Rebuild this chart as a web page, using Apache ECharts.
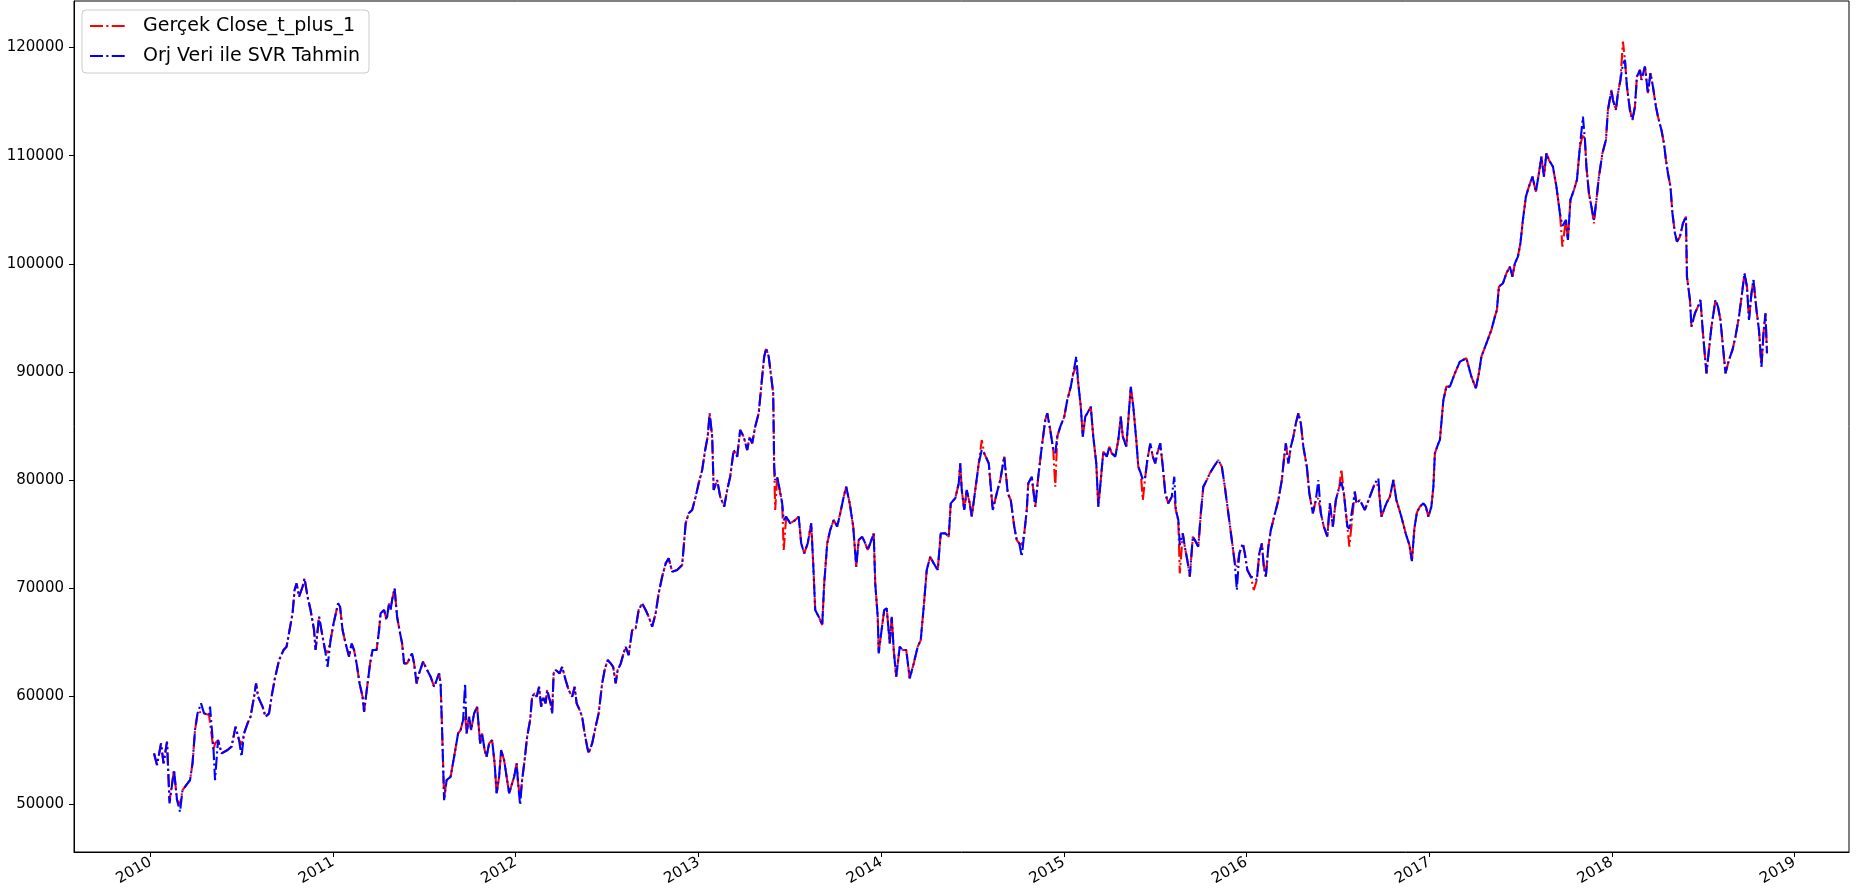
<!DOCTYPE html>
<html>
<head>
<meta charset="utf-8">
<script src="https://cdn.jsdelivr.net/npm/echarts@6/dist/echarts.min.js"></script>
<style>
html,body{margin:0;padding:0;background:#fff;}
#chart{width:1863px;height:896px;}
</style>
</head>
<body>
<div id="chart"></div>
<script>
const seriesNames = ['Gerçek Close_t_plus_1', 'Orj Veri ile SVR Tahmin'];
const yTickValues = [50000, 60000, 70000, 80000, 90000, 100000, 110000, 120000];
const xTickYears = ['2010', '2011', '2012', '2013', '2014', '2015', '2016', '2017', '2018', '2019'];

const dates = [
'2010-01-08','2010-01-14','2010-01-22','2010-01-27','2010-02-03','2010-02-08','2010-02-17','2010-02-23','2010-03-01','2010-03-06','2010-03-16','2010-03-21','2010-03-26','2010-03-31','2010-04-05','2010-04-12','2010-04-18','2010-04-28','2010-04-30','2010-05-07','2010-05-10','2010-05-16','2010-05-23','2010-06-04','2010-06-12','2010-06-20','2010-06-27','2010-07-02','2010-07-07','2010-07-14','2010-07-20','2010-07-27','2010-07-31','2010-08-04','2010-08-13','2010-08-19','2010-08-26','2010-08-31','2010-09-06','2010-09-15','2010-09-24','2010-09-30','2010-10-06','2010-10-12','2010-10-16','2010-10-20','2010-10-25','2010-11-01','2010-11-05','2010-11-11','2010-11-17','2010-11-24','2010-11-27','2010-12-04','2010-12-11','2010-12-16','2010-12-21','2010-12-27',
'2011-01-02','2011-01-11','2011-01-15','2011-01-20','2011-01-26','2011-02-02','2011-02-07','2011-02-12','2011-02-17','2011-02-23','2011-03-01','2011-03-04','2011-03-11','2011-03-16','2011-03-21','2011-03-29','2011-04-03','2011-04-06','2011-04-13','2011-04-18','2011-04-23','2011-04-26','2011-04-29','2011-05-04','2011-05-09','2011-05-15','2011-05-19','2011-05-23','2011-05-29','2011-06-08','2011-06-12','2011-06-17','2011-06-22','2011-06-30','2011-07-08','2011-07-15','2011-07-22','2011-07-27','2011-08-01','2011-08-04','2011-08-07','2011-08-11','2011-08-16','2011-08-24','2011-08-31','2011-09-08','2011-09-13','2011-09-18','2011-09-22','2011-09-25','2011-09-30','2011-10-04','2011-10-10','2011-10-16','2011-10-22','2011-10-26','2011-10-31','2011-11-04','2011-11-09','2011-11-15','2011-11-20','2011-11-24','2011-11-29','2011-12-03','2011-12-09','2011-12-14','2011-12-19','2011-12-23','2011-12-29',
'2012-01-03','2012-01-06','2012-01-10','2012-01-14','2012-01-19','2012-01-24','2012-01-30','2012-02-03','2012-02-08','2012-02-12','2012-02-17','2012-02-21','2012-02-25','2012-03-01','2012-03-04','2012-03-11','2012-03-14','2012-03-17','2012-03-21','2012-03-29','2012-04-03','2012-04-10','2012-04-16','2012-04-23','2012-04-28','2012-05-02','2012-05-08','2012-05-13','2012-05-18','2012-05-23','2012-05-26','2012-06-02','2012-06-09','2012-06-15','2012-06-22','2012-06-27','2012-07-03','2012-07-09','2012-07-14','2012-07-19','2012-07-23','2012-07-29','2012-08-04','2012-08-08','2012-08-14','2012-08-21','2012-08-28','2012-09-03','2012-09-10','2012-09-17','2012-09-23','2012-09-30','2012-10-07','2012-10-13','2012-10-20','2012-10-27','2012-11-02','2012-11-09','2012-11-19','2012-11-29','2012-12-06','2012-12-12','2012-12-19','2012-12-26',
'2013-01-01','2013-01-08','2013-01-14','2013-01-19','2013-01-23','2013-01-28','2013-01-31','2013-02-07','2013-02-13','2013-02-21','2013-02-27','2013-03-05','2013-03-12','2013-03-19','2013-03-25','2013-04-01','2013-04-08','2013-04-13','2013-04-18','2013-04-24','2013-05-01','2013-05-08','2013-05-12','2013-05-16','2013-05-21','2013-05-26','2013-05-30','2013-06-01','2013-06-03','2013-06-07','2013-06-12','2013-06-17','2013-06-20','2013-06-25','2013-07-03','2013-07-13','2013-07-20','2013-07-25','2013-07-31','2013-08-07','2013-08-14','2013-08-18','2013-08-22','2013-08-29','2013-09-05','2013-09-09','2013-09-15','2013-09-21','2013-09-28','2013-10-05','2013-10-11','2013-10-18','2013-10-23','2013-10-30','2013-11-06','2013-11-12','2013-11-17','2013-11-24','2013-11-30','2013-12-05','2013-12-10','2013-12-17','2013-12-20','2013-12-25','2013-12-27','2013-12-31',
'2014-01-07','2014-01-12','2014-01-18','2014-01-22','2014-01-26','2014-01-31','2014-02-07','2014-02-13','2014-02-20','2014-02-27','2014-03-07','2014-03-15','2014-03-21','2014-03-27','2014-04-02','2014-04-09','2014-04-16','2014-04-24','2014-04-30','2014-05-09','2014-05-16','2014-05-20','2014-05-29','2014-06-05','2014-06-08','2014-06-11','2014-06-16','2014-06-21','2014-06-27','2014-07-01','2014-07-08','2014-07-15','2014-07-21','2014-07-26','2014-08-04','2014-08-12','2014-08-20','2014-08-27','2014-09-04','2014-09-11','2014-09-17','2014-09-24','2014-09-29','2014-10-04','2014-10-09','2014-10-14','2014-10-19','2014-10-22','2014-10-29','2014-11-05','2014-11-11','2014-11-18','2014-11-25','2014-11-29','2014-12-05','2014-12-11','2014-12-15','2014-12-19','2014-12-25',
'2015-01-02','2015-01-08','2015-01-15','2015-01-20','2015-01-26','2015-01-30','2015-02-04','2015-02-08','2015-02-13','2015-02-17','2015-02-24','2015-03-01','2015-03-07','2015-03-11','2015-03-16','2015-03-21','2015-03-28','2015-04-02','2015-04-07','2015-04-14','2015-04-20','2015-04-25','2015-04-29','2015-05-06','2015-05-10','2015-05-15','2015-05-20','2015-05-26','2015-05-30','2015-06-04','2015-06-08','2015-06-13','2015-06-17','2015-06-23','2015-06-28','2015-07-03','2015-07-07','2015-07-13','2015-07-18','2015-07-23','2015-07-29','2015-08-05','2015-08-10','2015-08-13','2015-08-18','2015-08-21','2015-08-27','2015-08-31','2015-09-05','2015-09-10','2015-09-16','2015-09-20','2015-09-27','2015-10-02','2015-10-07','2015-10-14','2015-10-20','2015-10-28','2015-11-06','2015-11-13','2015-11-19','2015-11-26','2015-12-03','2015-12-09','2015-12-13','2015-12-18','2015-12-25','2015-12-29',
'2016-01-03','2016-01-10','2016-01-16','2016-01-22','2016-01-27','2016-02-01','2016-02-05','2016-02-09','2016-02-14','2016-02-19','2016-02-24','2016-02-29','2016-03-05','2016-03-12','2016-03-16','2016-03-20','2016-03-25','2016-03-30','2016-04-04','2016-04-09','2016-04-14','2016-04-19','2016-04-24','2016-05-01','2016-05-06','2016-05-13','2016-05-19','2016-05-24','2016-05-29','2016-06-04','2016-06-11','2016-06-16','2016-06-22','2016-06-28','2016-07-05','2016-07-09','2016-07-14','2016-07-21','2016-07-25','2016-08-05','2016-08-08','2016-08-15','2016-08-25','2016-09-04','2016-09-14','2016-09-21','2016-09-24','2016-09-27','2016-10-07','2016-10-14','2016-10-21','2016-10-27','2016-11-06','2016-11-15','2016-11-22','2016-11-27','2016-12-02','2016-12-07','2016-12-13','2016-12-20','2016-12-25','2016-12-30',
'2017-01-05','2017-01-09','2017-01-12','2017-01-19','2017-01-22','2017-01-29','2017-02-04','2017-02-11','2017-02-21','2017-03-03','2017-03-16','2017-03-26','2017-04-04','2017-04-10','2017-04-15','2017-04-25','2017-05-05','2017-05-12','2017-05-16','2017-05-20','2017-05-28','2017-06-04','2017-06-11','2017-06-16','2017-06-21','2017-06-27','2017-07-02','2017-07-07','2017-07-13','2017-07-19','2017-07-26','2017-08-02','2017-08-08','2017-08-13','2017-08-18','2017-08-23','2017-08-28','2017-09-05','2017-09-12','2017-09-19','2017-09-24','2017-10-01','2017-10-05','2017-10-10','2017-10-17','2017-10-23','2017-10-29','2017-11-04','2017-11-08','2017-11-11','2017-11-16','2017-11-21','2017-11-26','2017-12-01','2017-12-06','2017-12-13','2017-12-20','2017-12-24','2017-12-31',
'2018-01-03','2018-01-09','2018-01-13','2018-01-18','2018-01-23','2018-01-27','2018-01-31','2018-02-06','2018-02-11','2018-02-16','2018-02-20','2018-02-26','2018-03-01','2018-03-08','2018-03-14','2018-03-19','2018-03-24','2018-03-30','2018-04-03','2018-04-10','2018-04-15','2018-04-19','2018-04-23','2018-04-28','2018-05-02','2018-05-07','2018-05-11','2018-05-17','2018-05-23','2018-05-29','2018-05-31','2018-06-06','2018-06-09','2018-06-16','2018-06-22','2018-06-27','2018-07-02','2018-07-09','2018-07-14','2018-07-19','2018-07-23','2018-07-27','2018-08-01','2018-08-06','2018-08-11','2018-08-16','2018-08-23','2018-08-30','2018-09-05','2018-09-12','2018-09-19','2018-09-23','2018-09-28','2018-10-02','2018-10-07','2018-10-11','2018-10-17','2018-10-22','2018-10-27','2018-10-31','2018-11-04','2018-11-07'
];

const svrPredicted = [
54720,53640,55640,53800,55800,50090,53180,50400,49320,51330,51940,52250,53800,56880,58420,59340,58420,58260,59040,55030,52250,55950,54720,55030,55340,57190,55950,54410,56570,57490,58110,59960,61190,59960,59040,58110,58420,59960,61500,63350,64280,64580,66130,67670,69830,70440,69210,70130,70900,69210,67980,66130,64280,67360,65510,64280,62730,65200,
66740,68590,68280,66130,64890,63660,64890,64280,63040,61190,59960,58570,61190,63040,64280,64280,66130,67670,67980,67050,68590,67980,68900,69980,67360,65820,64890,63040,63040,63970,63040,61190,62120,63200,62430,61810,60880,61500,62120,61190,56880,50400,52250,52560,54410,56570,56880,57800,61190,56570,58110,56880,58420,59040,55640,56570,55030,54410,55640,55950,53790,51020,52560,55030,54100,52560,51020,51640,52560,
53790,51940,49940,52250,54100,56260,57800,59960,60270,59960,60880,59040,59960,59340,60580,59340,58420,62120,62430,62120,62730,61500,60580,59960,60880,59340,58730,58110,56570,55340,54720,55640,57190,58420,61190,62430,63350,63040,62730,61190,62430,63000,64000,64580,63810,66130,66280,67980,68590,67980,67360,66440,67670,69520,71060,72290,72760,71520,71680,72140,75990,76920,77230,78460,
79690,80930,82780,84010,86170,84010,79080,80000,78460,77530,79080,80310,82780,82160,84630,84010,82780,84010,83390,84930,86170,89560,91410,92180,91410,89560,88020,81230,80000,80310,79080,77840,76300,76610,75990,76300,76610,74140,73220,74140,75990,72290,67980,67360,66590,70440,74140,75380,76300,75690,76920,78460,79380,77840,75690,71980,74450,74760,74140,73530,74140,75070,70440,67360,63970,65510,
67980,68130,64890,67360,64280,61810,64590,64280,64280,61660,63040,64590,65200,68280,71680,72910,72290,71680,75070,75070,74760,77840,78310,79690,81540,79080,77230,79080,77840,76610,79080,81540,82770,82470,81540,77230,78770,80000,82160,78770,78150,75690,74450,74140,72910,75070,77230,79690,80310,77530,80310,83080,85550,86170,84620,82780,82500,84010,84930,
85860,87400,88630,89870,91410,88940,86780,84010,85860,86170,86780,84010,81540,77530,80000,82620,82160,83080,82470,82160,83700,85860,84010,83080,85550,88630,86780,83700,81230,80620,80000,80310,81850,83390,82160,81540,82470,83390,81230,78770,77840,78460,80310,77230,76300,74000,75070,73830,72600,71060,74760,74450,73830,76920,79380,80000,80620,81230,81850,81230,79380,76920,74450,72290,69830,73220,74140,73220,
71680,71060,71000,70750,73220,74140,71980,71060,73830,75380,76300,77230,78150,80000,81850,83390,81540,83080,84010,85240,86170,85240,83080,81230,78770,76920,78150,80000,76920,75680,74760,77840,75680,78150,79380,79800,78770,75680,75500,78920,77850,78150,77230,78460,79690,80160,78150,76610,77850,78460,80000,78150,76610,75000,74000,72500,75500,77000,77540,77850,77540,76610,
77540,79390,82470,83390,83700,87400,88640,88640,89870,90950,91260,89560,88480,89870,91410,92640,93880,95110,95730,97880,98190,99120,99730,98810,100040,100660,101890,104050,106210,107130,108060,106670,108370,109910,108060,110220,109600,108980,107130,104670,103500,104050,102200,105900,106820,107750,110830,113610,111450,108980,106520,105280,104050,105900,108060,110220,111450,114220,116070,
115150,114220,115770,117000,118500,118850,116380,114220,113300,114530,117310,117920,117000,118230,115770,117620,116380,114530,113610,112370,111140,109600,108370,107130,104670,102820,102050,102510,103740,104360,98810,96650,94190,95420,96030,96650,93570,89870,92030,94190,95420,96650,96030,94800,92330,89870,91100,92030,93260,95110,97580,99120,97880,94800,97270,98500,95730,93880,90490,93570,95420,91720
];

const actualClose = [
54720,53640,55640,53800,55800,50300,53180,50400,50000,51330,51940,52250,53800,56880,58420,58570,58420,58260,58200,55030,55640,55950,54720,55030,55340,57190,55950,55500,56570,57490,58110,59960,61190,59960,59040,58110,58420,59960,61500,63350,64280,64580,66130,67670,69830,70440,69210,70130,70900,69210,67980,66130,64280,67360,65510,64280,64000,65200,
66740,68590,68280,66130,64890,63660,64890,64280,63040,61190,59960,58570,61190,63040,64280,64280,66130,67670,67980,67050,68590,67980,68900,69980,67360,65820,64890,63040,63040,63970,63040,61190,62120,63200,62430,61810,60880,61500,62120,61190,56880,50600,52250,52560,54410,56570,56880,57800,58200,56570,58110,56880,58420,59040,55640,56570,55030,54410,55640,55950,53790,51020,52560,55030,54100,52560,51020,51640,52560,
53790,51940,50600,52250,54100,56260,57800,59960,60270,59960,60880,59040,59960,59340,60580,59340,58420,62120,62430,62120,62730,61500,60580,59960,60880,59340,58730,58110,56570,55340,54720,55640,57190,58420,61190,62430,63350,63040,62730,61190,62430,63000,64000,64580,63810,66130,66280,67980,68590,67980,67360,66440,67670,69520,71060,72290,72760,71520,71680,72140,75990,76920,77230,78460,
79690,80930,82780,84010,86170,84010,79080,80000,78460,77530,79080,80310,82780,82160,84630,84010,82780,84010,83390,84930,86170,89560,91410,92180,91410,89560,88020,81230,77230,80310,79080,77840,73530,76610,75990,76300,76610,74140,73220,74140,75990,72290,67980,67360,66590,70440,74140,75380,76300,75690,76920,78460,79380,77840,75690,71980,74450,74760,74140,73530,74140,75070,70440,67360,63970,65510,
67980,68130,64890,67360,64280,61810,64590,64280,64280,61660,63040,64590,65200,68280,71680,72910,72290,71680,75070,75070,74760,77840,78310,79690,81540,79080,77230,79080,77840,76610,79080,81540,83700,82470,81540,77230,78770,80000,82160,78770,78150,75690,74450,74140,74000,75070,77230,79690,80310,77530,80310,83080,85550,86170,84620,82780,79380,84010,84930,
85860,87400,88630,89870,90500,88940,86780,84010,85860,86170,86780,84010,81540,77530,80000,82620,82160,83080,82470,82160,83700,85860,84010,83080,85550,88630,86780,83700,81230,80620,78150,80310,81850,83390,82160,81540,82470,83390,81230,78770,77840,78460,78500,77230,76300,71370,75070,73830,72600,71060,74760,74450,73830,76920,79380,80000,80620,81230,81850,81230,79380,76920,74450,72290,72000,73220,74140,73220,
71680,71060,69830,70750,73220,74140,71980,71060,73830,75380,76300,77230,78150,80000,81850,83390,81540,83080,84010,85240,86170,85240,83080,81230,78770,76920,78150,78300,76920,75680,74760,77840,75680,78150,79380,81000,78770,75680,73830,78920,77850,78150,77230,78460,79690,79500,78150,76610,77850,78460,80000,78150,76610,75000,74000,72500,75500,77000,77540,77850,77540,76610,
77540,79390,82470,83390,83700,87400,88640,88640,89870,90950,91260,89560,88480,89870,91410,92640,93880,95110,95730,97880,98190,99120,99730,98810,100040,100660,101890,104050,106210,107130,108060,106670,108370,109910,108060,110220,109600,108980,107130,104670,101580,104050,102200,105900,106820,107750,110830,112000,111450,108980,106520,105280,103740,105900,108060,110220,111450,114220,116070,
115150,114220,115770,117000,120540,118850,116380,114220,113300,114530,117310,117920,117000,118230,115770,117620,116380,114530,113610,112370,111140,109600,108370,107130,104670,102820,102050,102510,103740,104360,98810,96650,94190,95420,96030,96650,93570,89870,92030,94190,95420,96650,96030,94800,92330,89870,91100,92030,93260,95110,97580,99120,97880,94800,97270,98500,95730,93880,90490,93570,95420,91720
];

const FONT = 'DejaVu Sans';
const DASH_DOT = [13, 3.3, 2.1, 3.3];
const toPairs = (vals) => dates.map((d, i) => [Date.parse(d), vals[i]]);
const yearStamps = xTickYears.map(y => Date.UTC(+y, 0, 1));

const chart = echarts.init(document.getElementById('chart'), null, {renderer: 'canvas'});
chart.setOption({
  animation: false,
  backgroundColor: '#ffffff',
  textStyle: {fontFamily: FONT},
  grid: {left: 74, right: 14, top: 1, bottom: 44, show: true, borderColor: '#000000', borderWidth: 1, backgroundColor: 'transparent'},
  legend: {
    orient: 'vertical', left: 82, top: 10,
    padding: [5, 9, 6, 7],
    itemWidth: 38, itemHeight: 14, itemGap: 8,
    backgroundColor: 'rgba(255,255,255,0.8)',
    borderColor: '#cccccc', borderWidth: 1, borderRadius: 4,
    itemStyle: {opacity: 0},
    lineStyle: {width: 2},
    textStyle: {fontSize: 19, fontFamily: FONT, color: '#000000', lineHeight: 22, padding: [0, 0, 0, 10]},
    data: seriesNames
  },
  xAxis: {
    type: 'value',
    min: Date.UTC(2009, 7, 1),
    max: Date.UTC(2019, 3, 20),
    splitLine: {show: false},
    axisLine: {show: true, onZero: false, lineStyle: {color: '#000000', width: 1}},
    axisTick: {show: true, length: 5, lineStyle: {color: '#000000'}, customValues: yearStamps},
    axisLabel: {
      customValues: yearStamps, rotate: 30, margin: 9, fontSize: 15, color: '#000000', fontFamily: FONT,
      formatter: (v) => String(new Date(v).getUTCFullYear())
    }
  },
  yAxis: {
    type: 'value',
    min: 45600,
    max: 124300,
    splitLine: {show: false},
    axisLine: {show: true, lineStyle: {color: '#000000', width: 1}},
    axisTick: {show: true, length: 5, lineStyle: {color: '#000000'}, customValues: yTickValues},
    axisLabel: {customValues: yTickValues, margin: 10, fontSize: 15, color: '#000000', fontFamily: FONT, formatter: (v) => String(v)}
  },
  series: [
    {
      name: seriesNames[0], type: 'line', data: toPairs(actualClose),
      showSymbol: false, symbol: 'none', z: 2,
      itemStyle: {color: '#ff0000'},
      lineStyle: {color: '#ff0000', width: 2.1, type: DASH_DOT}
    },
    {
      name: seriesNames[1], type: 'line', data: toPairs(svrPredicted),
      showSymbol: false, symbol: 'none', z: 3,
      itemStyle: {color: '#0000ff'},
      lineStyle: {color: '#0000ff', width: 2.1, type: DASH_DOT}
    }
  ]
});
</script>
</body>
</html>
